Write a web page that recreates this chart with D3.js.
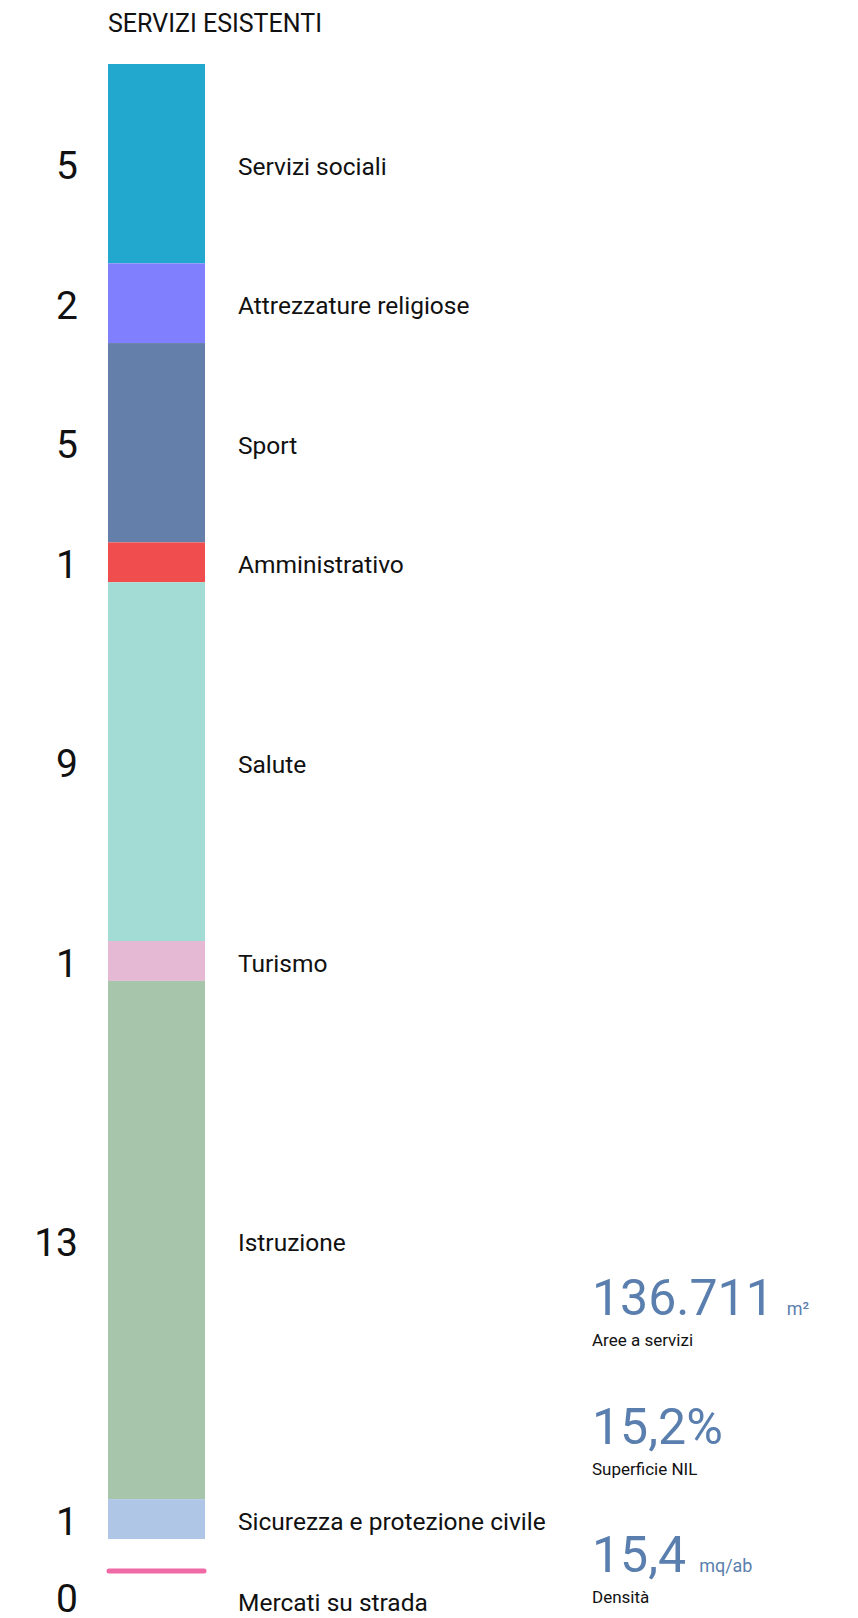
<!DOCTYPE html>
<html>
<head>
<meta charset="utf-8">
<script src="https://cdn.jsdelivr.net/npm/d3@7"></script>
<style>
  body { margin: 0; background: #fff; }
  svg { display: block; font-family: Roboto, "Noto Sans", sans-serif; }
</style>
</head>
<body>
<svg id="chart"></svg>
<script>
// categories and counts, top to bottom
var categories = ["Servizi sociali", "Attrezzature religiose", "Sport", "Amministrativo",
                  "Salute", "Turismo", "Istruzione", "Sicurezza e protezione civile"];
var counts = [5, 2, 5, 1, 9, 1, 13, 1];
var colors = ["#22a7ce", "#8080ff", "#647faa", "#f04e4e",
              "#a2dcd4", "#e5b9d4", "#a6c5aa", "#b0c6e6"];

// zero-value category drawn as a line below the bar
var extraCategory = "Mercati su strada";
var extraCount = 0;
var extraColor = "#f06aa6";

// side figures
var statValues = ["136.711", "15,2%", "15,4"];
var statUnits = ["m²", "", "mq/ab"];
var statLabels = ["Aree a servizi", "Superficie NIL", "Densità"];

var width = 858, height = 1618;
var barX = 108, barW = 97;
var numX = 78, labelX = 238;

var svg = d3.select("#chart")
    .attr("width", width)
    .attr("height", height);

// title
svg.append("text")
    .attr("x", barX)
    .attr("y", 32)
    .attr("font-size", 25)
    .attr("fill", "#111")
    .text("SERVIZI ESISTENTI");

//stack the counts
var ends = Array.from(d3.cumsum(counts));
var rows = categories.map(function(c, i) {
    return {name: c, value: counts[i], color: colors[i],
            y0: ends[i] - counts[i], y1: ends[i]};
});

var yScale = d3.scaleLinear()
    .domain([0, d3.sum(counts)])
    .range([64, 1539]);

// segments
svg.selectAll("rect.seg")
    .data(rows)
    .enter()
    .append("rect")
    .attr("class", "seg")
    .attr("x", barX)
    .attr("y", function(d) { return yScale(d.y0); })
    .attr("width", barW)
    .attr("height", function(d) { return yScale(d.y1) - yScale(d.y0); })
    .attr("fill", function(d) { return d.color; });

// counts on the left
svg.selectAll("text.num")
    .data(rows)
    .enter()
    .append("text")
    .attr("class", "num")
    .attr("x", numX)
    .attr("y", function(d) { return (yScale(d.y0) + yScale(d.y1)) / 2; })
    .attr("dy", "0.4em")
    .attr("text-anchor", "end")
    .attr("font-size", 39)
    .attr("font-weight", 400)
    .attr("fill", "#111")
    .text(function(d) { return d.value; });

// category names
svg.selectAll("text.lab")
    .data(rows)
    .enter()
    .append("text")
    .attr("class", "lab")
    .attr("x", labelX)
    .attr("y", function(d) { return (yScale(d.y0) + yScale(d.y1)) / 2; })
    .attr("dy", "0.45em")
    .attr("font-size", 24.5)
    .attr("fill", "#111")
    .text(function(d) { return d.name; });

// zero row
var extraY = yScale(d3.sum(counts)) + 32;
svg.append("line")
    .attr("x1", barX + 1)
    .attr("x2", barX + barW - 1)
    .attr("y1", extraY)
    .attr("y2", extraY)
    .attr("stroke", extraColor)
    .attr("stroke-width", 5)
    .attr("stroke-linecap", "round");
svg.append("text")
    .attr("x", numX)
    .attr("y", extraY + 26)
    .attr("dy", "0.38em")
    .attr("text-anchor", "end")
    .attr("font-size", 39)
    .attr("fill", "#111")
    .text(extraCount);
svg.append("text")
    .attr("x", labelX)
    .attr("y", extraY + 30)
    .attr("dy", "0.42em")
    .attr("font-size", 24.5)
    .attr("fill", "#111")
    .text(extraCategory);

// figures on the right
var statTop = [1315, 1444, 1572];
var stats = svg.selectAll("g.stat")
    .data(statValues)
    .enter()
    .append("g")
    .attr("class", "stat")
    .attr("transform", function(d, i) { return "translate(592," + statTop[i] + ")"; });

stats.append("text")
    .attr("font-size", 50)
    .attr("font-weight", 400)
    .attr("fill", "#5a7fae")
    .text(function(d) { return d; })
    .each(function(d, i) {
        var w = this.getComputedTextLength();
        d3.select(this.parentNode).append("text")
            .attr("x", w + 13)
            .attr("font-size", 18)
            .attr("fill", "#5a7fae")
            .text(statUnits[i]);
    });

stats.append("text")
    .attr("y", 31)
    .attr("font-size", 17)
    .attr("fill", "#111")
    .text(function(d, i) { return statLabels[i]; });
</script>
</body>
</html>
